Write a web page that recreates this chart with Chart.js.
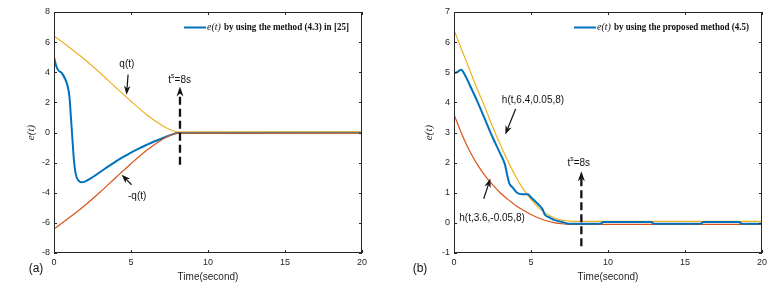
<!DOCTYPE html>
<html>
<head>
<meta charset="utf-8">
<title>e(t) comparison</title>
<style>
  body { margin: 0; background: #fff; }
  #wrap { position: relative; width: 783px; height: 288px; }
  .panel { position: absolute; top: 0; width: 390px; height: 288px; }
  #panel-a { left: 0; }
  #panel-b { left: 393px; }
</style>
</head>
<body>
<div id="wrap">
  <div class="panel" id="panel-a"><canvas id="chart-a" width="390" height="288"></canvas></div>
  <div class="panel" id="panel-b"><canvas id="chart-b" width="390" height="288"></canvas></div>
</div>

<script src="https://cdn.jsdelivr.net/npm/chart.js@4/dist/chart.umd.min.js"></script>
<script>
// ---- data, panel (a) ----
const tQ = [0, 1, 2, 3, 4, 5, 6, 7, 7.5, 8, 10, 15, 20];
const qUpper = [6.4, 5.65, 4.85, 3.95, 3.0, 2.07, 1.2, 0.48, 0.2, 0.05, 0.05, 0.05, 0.05];
const qLower = [-6.4, -5.65, -4.85, -3.95, -3.0, -2.07, -1.2, -0.48, -0.2, -0.05, -0.05, -0.05, -0.05];
const tE1 = [0, 0.15, 0.3, 0.5, 0.7, 0.85, 1.0, 1.1, 1.2, 1.3, 1.4, 1.5, 1.65, 1.8, 2.0, 2.5, 3, 3.5, 4, 4.5, 5, 5.5, 6, 6.5, 7, 7.5, 8, 20];
const e1 = [5.0, 4.4, 4.1, 3.95, 3.6, 3.2, 2.4, 1.0, -0.5, -1.9, -2.7, -3.05, -3.25, -3.3, -3.26, -2.97, -2.62, -2.27, -1.93, -1.62, -1.33, -1.07, -0.83, -0.6, -0.4, -0.2, -0.03, 0];

// ---- data, panel (b) ----
const tH = [0, 0.5, 1, 1.5, 2, 2.5, 3, 3.5, 4, 4.5, 5, 5.5, 6, 6.5, 7, 7.5, 8, 20];
const hUpper = [6.4, 5.75, 5.1, 4.45, 3.85, 3.2, 2.6, 2.05, 1.55, 1.12, 0.78, 0.5, 0.3, 0.17, 0.09, 0.06, 0.05, 0.05];
const hLower = [3.6, 2.95, 2.4, 1.95, 1.58, 1.27, 1.0, 0.78, 0.58, 0.42, 0.28, 0.16, 0.07, 0.01, -0.03, -0.05, -0.05, -0.05];
const tE2 = [0, 0.2, 0.45, 0.7, 1, 1.5, 2, 2.5, 3, 3.3, 3.45, 3.6, 3.8, 4.1, 4.4, 4.8, 5, 5.5, 5.75, 5.9, 6.2, 6.5, 7, 7.5, 9.5, 9.7, 12.8, 13, 16, 16.2, 18.5, 18.7, 20];
const e2 = [4.97, 5.0, 5.08, 4.92, 4.6, 4.05, 3.45, 2.85, 2.3, 1.95, 1.6, 1.3, 1.18, 1.0, 0.95, 0.95, 0.85, 0.6, 0.45, 0.27, 0.18, 0.1, 0.03, -0.03, -0.03, 0.03, 0.03, -0.03, -0.03, 0.03, 0.03, -0.03, -0.03];

const xTicks = { min: 0, max: 20, step: 5 };

const BLUE = '#0072BD', RED = '#D95319', YELLOW = '#EDB120', INK = '#262626';
const SANS = '"Liberation Sans", Arial, sans-serif';
const SERIF = '"Liberation Serif", "Times New Roman", serif';

const pts = (xs, ys) => xs.map((x, i) => ({ x, y: ys[i] }));

function line(data, color, width, order) {
    return {
        data, borderColor: color, borderWidth: width, pointRadius: 0,
        cubicInterpolationMode: 'monotone', fill: false, order
    };
}

// arrow with a notched head, like the matlab annotation arrows
function arrow(ctx, x1, y1, x2, y2, head, wid) {
    const ang = Math.atan2(y2 - y1, x2 - x1);
    const bx = x2 - Math.cos(ang) * head * 0.7, by = y2 - Math.sin(ang) * head * 0.7;
    ctx.beginPath();
    ctx.moveTo(x1, y1);
    ctx.lineTo(bx, by);
    ctx.stroke();
    ctx.setLineDash([]);
    ctx.save();
    ctx.translate(x2, y2);
    ctx.rotate(ang);
    ctx.beginPath();
    ctx.moveTo(0, 0);
    ctx.lineTo(-head, -wid / 2);
    ctx.lineTo(-head * 0.7, 0);
    ctx.lineTo(-head, wid / 2);
    ctx.closePath();
    ctx.fill();
    ctx.restore();
}

const notesPlugin = {
    id: 'notes',
    afterDatasetsDraw(chart, args, opts) {
        const { ctx, chartArea: a, scales: { x, y } } = chart;
        ctx.save();

        // axes box + inward ticks (box on)
        ctx.strokeStyle = INK;
        ctx.lineWidth = 1;
        ctx.strokeRect(Math.round(a.left) + 0.5, Math.round(a.top) + 0.5,
                       Math.round(a.width) - 1, Math.round(a.height) - 1);
        ctx.beginPath();
        x.ticks.forEach(t => {
            const px = Math.round(x.getPixelForValue(t.value)) + 0.5;
            ctx.moveTo(px, a.bottom); ctx.lineTo(px, a.bottom - 3);
            ctx.moveTo(px, a.top); ctx.lineTo(px, a.top + 3);
        });
        y.ticks.forEach(t => {
            const py = Math.round(y.getPixelForValue(t.value)) + 0.5;
            ctx.moveTo(a.left, py); ctx.lineTo(a.left + 3, py);
            ctx.moveTo(a.right, py); ctx.lineTo(a.right - 3, py);
        });
        ctx.stroke();

        // legend (inside, top right)
        const lg = opts.legend;
        const ly = a.top + 15.5;
        const end = a.right - 13;
        const start = end - lg.width;
        ctx.fillStyle = '#111';
        ctx.textBaseline = 'middle';
        ctx.textAlign = 'left';
        ctx.font = 'italic 10px ' + SERIF;
        const w1 = ctx.measureText('e(t)').width;
        ctx.fillText('e(t)', start, ly);
        ctx.font = 'bold 10px ' + SERIF;
        ctx.fillText(lg.text, start + w1 + 3, ly, lg.width - w1 - 3);
        ctx.strokeStyle = BLUE;
        ctx.lineWidth = 2;
        ctx.beginPath();
        ctx.moveTo(start - 23, ly); ctx.lineTo(start - 1, ly);
        ctx.stroke();

        // text labels
        ctx.fillStyle = '#111';
        ctx.textAlign = 'center';
        ctx.font = '10px ' + SANS;
        opts.labels.forEach(l => {
            ctx.fillText(l.text, x.getPixelForValue(l.x), y.getPixelForValue(l.y));
        });

        // t^s=8s
        const ts = opts.ts;
        ctx.textAlign = 'left';
        ctx.font = '10px ' + SANS;
        const wt = ctx.measureText('t').width, wr = ctx.measureText('=8s').width;
        ctx.font = '7px ' + SANS;
        const ws = ctx.measureText('s').width;
        let cx = x.getPixelForValue(ts.x) - (wt + ws + wr) / 2;
        const cy = y.getPixelForValue(ts.y);
        ctx.font = '10px ' + SANS;
        ctx.fillText('t', cx, cy);
        ctx.font = '7px ' + SANS;
        ctx.fillText('s', cx + wt, cy - 4);
        ctx.font = '10px ' + SANS;
        ctx.fillText('=8s', cx + wt + ws, cy);

        // arrows
        ctx.strokeStyle = '#111';
        ctx.fillStyle = '#111';
        opts.arrows.forEach(ar => {
            const x1 = x.getPixelForValue(ar.from[0]), y1 = y.getPixelForValue(ar.from[1]);
            const x2 = x.getPixelForValue(ar.to[0]), y2 = y.getPixelForValue(ar.to[1]);
            if (ar.dashed) {
                ctx.lineWidth = 2.3;
                ctx.setLineDash([8, 4]);
                arrow(ctx, x1, y1, x2, y2, 10, 7);
            } else {
                ctx.lineWidth = 1.2;
                ctx.setLineDash([]);
                arrow(ctx, x1, y1, x2, y2, 9, 6.5);
            }
        });

        // panel tag
        ctx.textAlign = 'center';
        ctx.font = '12px ' + SANS;
        ctx.fillText(opts.panel.text, opts.panel.x, opts.panel.y);
        ctx.restore();
    }
};

function makeChart(id, datasets, cfg) {
    return new Chart(document.getElementById(id), {
        type: 'line',
        data: { datasets },
        plugins: [notesPlugin],
        options: {
            responsive: false,
            animation: false,
            layout: { padding: { left: 0, top: 12, right: cfg.padRight, bottom: 0 } },
            plugins: {
                legend: { display: false },
                tooltip: { enabled: false },
                notes: cfg.notes
            },
            scales: {
                x: {
                    type: 'linear', min: xTicks.min, max: xTicks.max,
                    ticks: { stepSize: xTicks.step, padding: 4, color: INK, maxRotation: 0,
                             font: { family: SANS, size: 9 } },
                    grid: { drawOnChartArea: false, drawTicks: false },
                    border: { display: false },
                    title: { display: true, text: 'Time(second)', color: INK,
                             font: { family: SANS, size: 10 }, padding: { top: 0, bottom: 5 } },
                    afterFit(s) { s.height = 35; }
                },
                y: {
                    type: 'linear', min: cfg.yMin, max: cfg.yMax,
                    ticks: { stepSize: cfg.yStep, padding: 4, color: INK,
                             font: { family: SANS, size: 9 } },
                    grid: { drawOnChartArea: false, drawTicks: false },
                    border: { display: false },
                    title: { display: true, text: 'e(t)', color: INK,
                             font: { family: SERIF, style: 'italic', size: 11 },
                             padding: { top: cfg.yTitlePad, bottom: 0 } },
                    afterFit(s) { s.width = cfg.yWidth; }
                }
            }
        }
    });
}

makeChart('chart-a', [
    line(pts(tE1, e1), BLUE, 2, 2),
    line(pts(tQ, qLower), RED, 1.2, 1),
    line(pts(tQ, qUpper), YELLOW, 1.2, 0)
], {
    yMin: -8, yMax: 8, yStep: 2, yWidth: 54, padRight: 28, yTitlePad: 25,
    notes: {
        panel: { text: '(a)', x: 36, y: 269 },
        legend: { text: 'by using the method (4.3) in [25]', width: 142 },
        labels: [{ text: 'q(t)', x: 4.73, y: 4.55 }, { text: '-q(t)', x: 5.4, y: -4.24 }],
        ts: { x: 8.16, y: 3.49 },
        arrows: [
            { from: [4.81, 3.84], to: [4.71, 2.5] },
            { from: [5.04, -3.47], to: [4.39, -2.8] },
            { from: [8.18, -2.14], to: [8.18, 3.06], dashed: true }
        ]
    }
});

makeChart('chart-b', [
    line(pts(tE2, e2), BLUE, 2, 0),
    line(pts(tH, hLower), RED, 1.2, 2),
    line(pts(tH, hUpper), YELLOW, 1.2, 1)
], {
    yMin: -1, yMax: 7, yStep: 1, yWidth: 61, padRight: 21, yTitlePad: 30,
    notes: {
        panel: { text: '(b)', x: 27, y: 269 },
        legend: { text: 'by using the proposed method (4.5)', width: 152 },
        labels: [{ text: 'h(t,6.4,0.05,8)', x: 5.13, y: 4.07 }, { text: 'h(t,3.6,-0.05,8)', x: 2.47, y: 0.16 }],
        ts: { x: 8.1, y: 1.97 },
        arrows: [
            { from: [4.0, 3.78], to: [3.33, 2.93] },
            { from: [1.93, 0.8], to: [2.36, 1.47] },
            { from: [8.27, -0.78], to: [8.27, 1.71], dashed: true }
        ]
    }
});
</script>
</body>
</html>
